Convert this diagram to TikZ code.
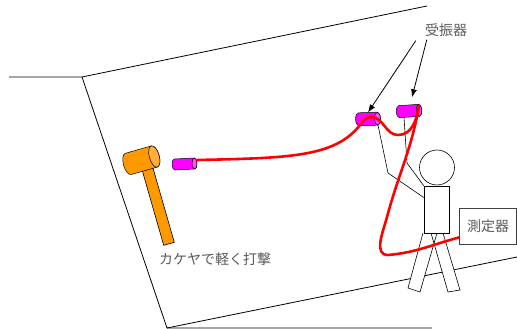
\documentclass[tikz,border=0pt]{standalone}
\usepackage{fontspec}
\newfontfamily\jpfont{Noto Sans CJK JP}
\usetikzlibrary{arrows.meta}
\definecolor{HOrange}{HTML}{FF9900}
\definecolor{HOrangeEnd}{HTML}{FFAE3A}
\definecolor{SMagenta}{HTML}{FF00FF}
\definecolor{SMagentaEnd}{HTML}{FF4DFF}
\definecolor{TGray}{HTML}{595959}
\definecolor{BGray}{HTML}{404040}

% lying cylinder: centre, angle, length, radius, body colour, end colour
\newcommand{\drum}[6]{%
  \begin{scope}[shift={#1},rotate=#2]
    \filldraw[fill=#5,draw=black,line width=0.5pt] (#3/2,#4) -- (-#3/2,#4)
      arc[start angle=90,end angle=270,x radius=0.45*#4,y radius=#4]
      -- (#3/2,-#4)
      arc[start angle=-90,end angle=90,x radius=0.45*#4,y radius=#4] -- cycle;
    \filldraw[fill=#6,draw=black,line width=0.5pt]
      (#3/2,0) ellipse[x radius=0.45*#4,y radius=#4];
  \end{scope}}

\begin{document}
\begin{tikzpicture}[
  x=1pt,y=1pt,
  every node/.style={font=\jpfont\fontsize{14}{16}\selectfont,text=TGray},
  wall/.style={draw=black,line width=0.8pt},
  limb/.style={draw=black,line width=0.6pt},
  figure/.style={draw=black,line width=0.6pt,fill=white,inner sep=0pt},
  handle/.style={draw=black,line width=0.6pt,fill=HOrange,
    minimum width=87,minimum height=11,inner sep=0pt},
  cable/.style={draw=red,line width=2.6pt,line cap=round},
  pointer/.style={-{Latex[length=8pt,width=6pt]},draw=black,line width=0.8pt},
  meter/.style={draw=BGray,line width=0.8pt,fill=white,
    minimum width=57,minimum height=36,inner sep=0pt}
]
  \useasboundingbox (0,0) rectangle (517,329);

  % wall and floor edges
  \coordinate (wA) at (9,252);
  \coordinate (wB) at (82,252);
  \coordinate (wC) at (427,323);
  \coordinate (wD) at (167,1);
  \coordinate (wE) at (432,1);
  \coordinate (wF) at (517,72);
  \draw[wall] (wA) -- (wB) -- (wC);
  \draw[wall] (wB) -- (wD) -- (wE);
  \draw[wall] (wD) -- (wF);

  % person holding the sensors
  \fill[white] (423,96) -- (408,41) -- (420,37) -- (437,96) -- cycle;
  \fill[white] (431,96) -- (448,37) -- (460,39) -- (443,96) -- cycle;
  \draw[limb] (423,96) -- (408,41) -- (420,37) -- (437,96);
  \draw[limb] (431,96) -- (448,37) -- (460,39) -- (443,96);
  \node[figure,minimum width=25,minimum height=47] (body) at (436.5,119.5) {};
  \node[figure,circle,minimum size=35] (head) at (437,161.5) {};

  % mallet
  \node[handle,rotate=-74] (grip) at (157,127) {};
  \coordinate (mallet) at (141.3,168.8);
  \drum{(mallet)}{16}{27}{11}{HOrange}{HOrangeEnd}

  % sensors
  \coordinate (s1) at (184.5,165);
  \coordinate (s2) at (368,210);
  \coordinate (s3) at (409,218);
  \coordinate (s1e) at (197,169);
  \coordinate (s2a) at (378,204);
  \coordinate (s2t) at (368,216.5);
  \coordinate (s3e) at (419,223);
  \coordinate (s3a) at (404,212);
  \coordinate (s3t) at (410,224);
  \draw[limb] (s2a) -- (388,156) -- ([yshift=12pt]body.west);
  \draw[limb] (s3a) -- (407,166) -- (body.north west);
  \drum{(s1)}{3}{20}{5.5}{SMagenta}{SMagentaEnd}
  \drum{(s2)}{2}{19}{6.5}{SMagenta}{SMagentaEnd}
  \drum{(s3)}{4}{20}{6}{SMagenta}{SMagentaEnd}

  \node[meter] (meter) at (488,103) {測定器};

  % cable
  \draw[cable] (s1e) .. controls (290,171) and (335,172) .. (360,204)
    to[out=52,in=180] (371,212) to[out=0,in=180] (398,194)
    to[out=0,in=-100] (s3e);
  \draw[cable] (s3e) to[out=-100,in=75] (387,112)
    to[out=-105,in=180] (388,74) to[out=5,in=195] ([yshift=7pt]meter.south west);

  % labels
  \node[inner sep=0pt] (lbl) at (446,299) {受振器};
  \node[inner sep=0pt] (note) at (215,70) {カケヤで軽く打撃};
  \draw[pointer] ([shift={(-9,-4)}]lbl.south west) -- (s2t);
  \draw[pointer,shorten >=8pt] ([shift={(2,-3)}]lbl.south west) -- (s3t);
\end{tikzpicture}
\end{document}
